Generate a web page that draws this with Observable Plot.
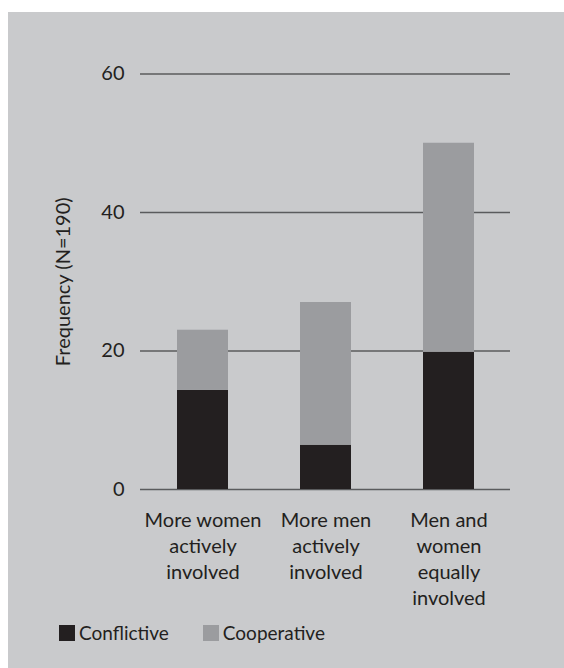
<!DOCTYPE html>
<html><head><meta charset="utf-8">
<script src="https://cdn.jsdelivr.net/npm/d3@7"></script>
<script src="https://cdn.jsdelivr.net/npm/@observablehq/plot@0.6"></script>
<style>
body{margin:0;background:#fff;}
#panel{position:absolute;left:8px;top:12px;width:556px;height:656px;background:#c9cacc;font-family:Lato,sans-serif;color:#231f20;}
#legend{display:flex;align-items:center;margin-top:12px;padding-left:51px;font-size:19px;line-height:18px;}
.item{display:flex;align-items:center;margin-right:34px;}
.sw{display:inline-block;width:16px;height:16px;margin-right:4px;}
</style></head>
<body><div id="panel"><div id="chart"></div><div id="legend"></div></div>
<script>
const categories = ["More women actively involved", "More men actively involved", "Men and women equally involved"];
const tickLabels = ["More women\nactively\ninvolved", "More men\nactively\ninvolved", "Men and\nwomen\nequally\ninvolved"];
const series = ["Conflictive", "Cooperative"];
const conflictive = [14.3, 6.4, 19.8];
const cooperative = [8.7, 20.6, 30.2];
const yTicks = [0, 20, 40, 60];
const colors = ["#231f20", "#9b9c9f"];

const data = categories.flatMap((c, i) => [
  {category: c, series: "Conflictive", value: conflictive[i]},
  {category: c, series: "Cooperative", value: cooperative[i]}
]);

const chart = Plot.plot({
  width: 556, height: 600,
  marginTop: 61.5, marginBottom: 123, marginLeft: 132, marginRight: 54,
  style: {background: "transparent", fontFamily: "Lato, sans-serif", fontSize: "20px", color: "#231f20"},
  x: {domain: categories, paddingInner: 0.586, paddingOuter: 0.293, axis: null},
  y: {domain: [0, 60], axis: null},
  color: {domain: series, range: colors},
  marks: [
    Plot.ruleY(yTicks, {stroke: "#5a5b5d", strokeWidth: 1.3}),
    Plot.barY(data, Plot.stackY({x: "category", y: "value", fill: "series", order: series})),
    Plot.axisY({ticks: yTicks, tickSize: 0, tickPadding: 16, label: "Frequency (N=190)", labelAnchor: "center", labelOffset: 85, labelArrow: "none", fontSize: 20, fill: "#231f20"}),
    Plot.axisX({tickSize: 0, tickPadding: 19, tickFormat: d => tickLabels[categories.indexOf(d)], lineHeight: 1.3, fontSize: 20, fill: "#231f20", label: null})
  ]
});
document.getElementById("chart").appendChild(chart);

const legend = document.getElementById("legend");
series.forEach((s, i) => {
  const item = document.createElement("span");
  item.className = "item";
  const sw = document.createElement("span");
  sw.className = "sw";
  sw.style.background = colors[i];
  item.appendChild(sw);
  item.appendChild(document.createTextNode(s));
  legend.appendChild(item);
});
</script>
</body></html>
